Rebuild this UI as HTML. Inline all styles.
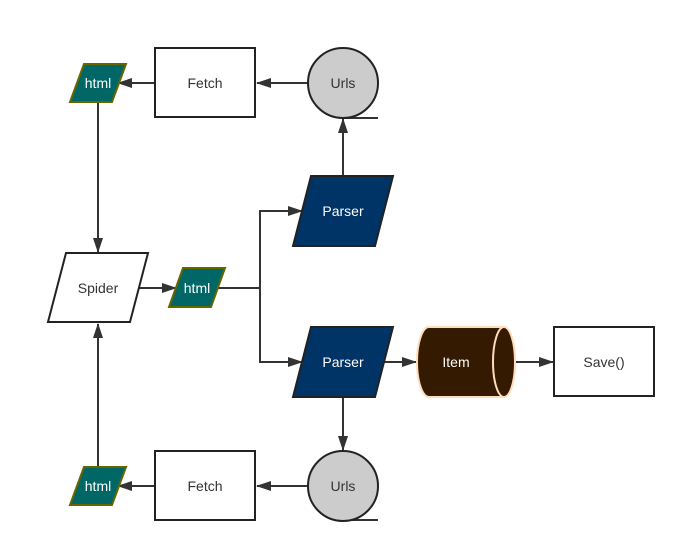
<!DOCTYPE html>
<html><head><meta charset="utf-8"><style>body{margin:0;background:#fff}</style></head><body>
<svg width="686" height="553" viewBox="0 0 686 553" xmlns="http://www.w3.org/2000/svg" font-family="Liberation Sans, sans-serif" font-size="14">
<defs><marker id="a" markerWidth="15" markerHeight="10" refX="14" refY="5" orient="auto" markerUnits="userSpaceOnUse"><path d="M0,0L15,5L0,10Z" fill="#333"/></marker></defs>
<g stroke="#333" stroke-width="2" fill="none">
<line x1="308" y1="83" x2="257" y2="83" marker-end="url(#a)"/>
<line x1="155" y1="83" x2="118" y2="83" marker-end="url(#a)"/>
<line x1="98" y1="102" x2="98" y2="252" marker-end="url(#a)"/>
<line x1="136" y1="288" x2="176" y2="288" marker-end="url(#a)"/>
<polyline points="217,288 260,288 260,211 302,211" marker-end="url(#a)"/>
<polyline points="260,288 260,362 302,362" marker-end="url(#a)"/>
<line x1="343" y1="176" x2="343" y2="119" marker-end="url(#a)"/>
<line x1="384" y1="362" x2="416" y2="362" marker-end="url(#a)"/>
<line x1="516" y1="362" x2="553" y2="362" marker-end="url(#a)"/>
<line x1="343" y1="397" x2="343" y2="450" marker-end="url(#a)"/>
<line x1="308" y1="486" x2="257" y2="486" marker-end="url(#a)"/>
<line x1="155" y1="486" x2="118" y2="486" marker-end="url(#a)"/>
<line x1="98" y1="467" x2="98" y2="324" marker-end="url(#a)"/>
<line x1="343" y1="118" x2="378" y2="118"/>
<line x1="343" y1="520" x2="378" y2="520"/>
</g>
<g stroke="#222" stroke-width="2">
<rect x="155" y="48" width="100" height="69" fill="#fff"/>
<rect x="155" y="451" width="100" height="69" fill="#fff"/>
<rect x="554" y="327" width="100" height="69" fill="#fff"/>
<circle cx="343" cy="83" r="35" fill="#ccc"/>
<circle cx="343" cy="486" r="35" fill="#ccc"/>
<polygon points="66,253 148,253 130,322 48,322" fill="#fff"/>
<polygon points="311,176 393,176 375,246 293,246" fill="#003366"/>
<polygon points="311,327 393,327 375,397 293,397" fill="#003366"/>
</g>
<g stroke="#666600" stroke-width="2" fill="#006666">
<polygon points="84,64 126,64 112,102 70,102"/>
<polygon points="183,268 225,268 211,307 169,307"/>
<polygon points="84,467 126,467 112,505 70,505"/>
</g>
<g stroke="#ffddbb" stroke-width="2" fill="#331a00">
<path d="M429,327 L504,327 A11,35 0 0 1 504,397 L429,397 A12,35 0 0 1 429,327Z"/>
<ellipse cx="504" cy="362" rx="11" ry="35"/>
</g>
<g text-anchor="middle" fill="#333">
<text x="205" y="88">Fetch</text><text x="205" y="491">Fetch</text>
<text x="343" y="88">Urls</text><text x="343" y="491">Urls</text>
<text x="98" y="293">Spider</text><text x="604" y="367">Save()</text>
</g>
<g text-anchor="middle" fill="#fff">
<text x="98" y="88">html</text><text x="197" y="293">html</text><text x="98" y="491">html</text>
<text x="343" y="216">Parser</text><text x="343" y="367">Parser</text>
<text x="456" y="367">Item</text>
</g>
</svg>
</body></html>
